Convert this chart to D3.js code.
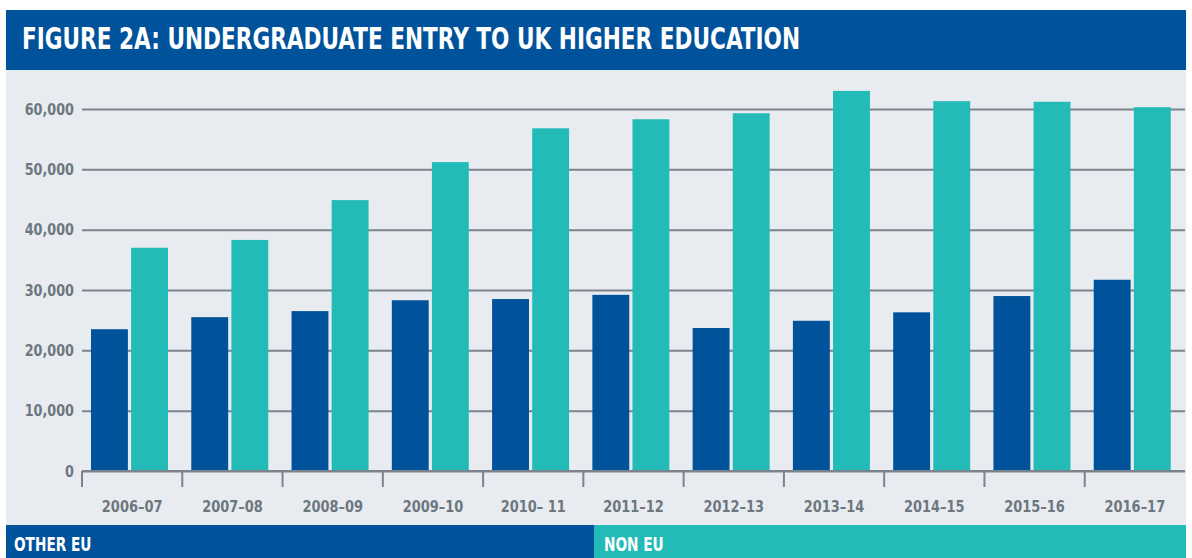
<!DOCTYPE html>
<html>
<head>
<meta charset="utf-8">
<script src="https://cdn.jsdelivr.net/npm/d3@7"></script>
<style>
  body { margin: 0; background: #fff; }
  svg { display: block; }
  text { font-family: "DejaVu Sans Condensed", "Liberation Sans Narrow", sans-serif; font-weight: bold; }
</style>
</head>
<body>
<svg id="chart"></svg>
<script>
// Datos
const years = ['2006–07', '2007–08', '2008–09', '2009–10', '2010– 11', '2011–12',
  '2012–13', '2013–14', '2014–15', '2015–16', '2016–17'];
const otherEU = [23500, 25500, 26500, 28300, 28500, 29200, 23700, 24900, 26300, 29000, 31700];
const nonEU = [37000, 38300, 44900, 51200, 56800, 58300, 59300, 63000, 61300, 61200, 60300];
const yTicks = [0, 10000, 20000, 30000, 40000, 50000, 60000];
const seriesNames = ['OTHER EU', 'NON EU'];

const width = 1192;
const height = 558;
const blue = '#00539b';
const teal = '#22bbb8';
const grey = '#6d7780';
const rule = '#7b838c';

const svg = d3.select('#chart')
  .attr('width', width)
  .attr('height', height);

// Estrecha el texto para imitar la fuente condensada
function squeeze(sel, k) {
  sel.each(function () {
    const w = this.getComputedTextLength();
    d3.select(this)
      .attr('textLength', w * k)
      .attr('lengthAdjust', 'spacingAndGlyphs');
  });
}

// Fondo del panel
svg.append('rect')
  .attr('x', 6).attr('y', 70)
  .attr('width', 1180).attr('height', 455)
  .attr('fill', '#e8ecf0');

// Cabecera
svg.append('rect')
  .attr('x', 6).attr('y', 10)
  .attr('width', 1180).attr('height', 60)
  .attr('fill', blue);

svg.append('text')
  .attr('x', 22).attr('y', 49)
  .attr('fill', '#fff')
  .attr('font-size', 30)
  .attr('textLength', 778)
  .attr('lengthAdjust', 'spacingAndGlyphs')
  .text('FIGURE 2A: UNDERGRADUATE ENTRY TO UK HIGHER EDUCATION');

// Escalas
const x = d3.scaleBand()
  .domain(years)
  .range([82, 1185]);

const y = d3.scaleLinear()
  .domain([0, 60000])
  .range([471, 109]);

// Rejilla y eje Y
const yAxis = svg.append('g')
  .attr('transform', 'translate(82,0)')
  .call(d3.axisLeft(y)
    .tickValues(yTicks)
    .tickSize(-(1185 - 82))
    .tickPadding(8)
    .tickFormat(d3.format(',')));

yAxis.select('.domain').remove();
yAxis.selectAll('line')
  .attr('stroke', rule)
  .attr('stroke-width', 2);
const yLabels = yAxis.selectAll('text')
  .attr('fill', grey)
  .attr('font-size', 16.5)
  .attr('font-family', null);
squeeze(yLabels, 0.86);

// Barras
const groups = svg.append('g')
  .selectAll('g')
  .data(years.map((yr, i) => ({ yr, values: [otherEU[i], nonEU[i]] })))
  .enter().append('g')
  .attr('transform', d => `translate(${x(d.yr)},0)`);

const inner = d3.scaleBand()
  .domain([0, 1])
  .range([9, 168 - 82])
  .paddingInner(0.08);

groups.selectAll('rect')
  .data(d => d.values)
  .enter().append('rect')
  .attr('x', (d, i) => inner(i))
  .attr('width', inner.bandwidth())
  .attr('y', d => y(d))
  .attr('height', d => y(0) - y(d))
  .attr('fill', (d, i) => i === 0 ? blue : teal);

// Eje X
const xAxis = svg.append('g')
  .attr('transform', `translate(0,${y(0)})`)
  .call(d3.axisBottom(x).tickSize(0).tickPadding(30));

xAxis.select('.domain')
  .attr('stroke', rule)
  .attr('stroke-width', 2)
  .attr('d', 'M82,0H1185');
const xLabels = xAxis.selectAll('text')
  .attr('fill', grey)
  .attr('font-size', 16)
  .attr('font-family', null);
squeeze(xLabels, 0.9);

// Marcas entre categorías
svg.append('g')
  .selectAll('line')
  .data(years)
  .enter().append('line')
  .attr('x1', d => x(d)).attr('x2', d => x(d))
  .attr('y1', y(0)).attr('y2', y(0) + 16)
  .attr('stroke', rule)
  .attr('stroke-width', 2);

// Leyenda
const legend = svg.append('g');
const legendX = [6, 594];
const legendW = [588, 592];
legend.selectAll('rect')
  .data(seriesNames)
  .enter().append('rect')
  .attr('x', (d, i) => legendX[i])
  .attr('y', 525)
  .attr('width', (d, i) => legendW[i])
  .attr('height', 33)
  .attr('fill', (d, i) => i === 0 ? blue : teal);

const legendText = legend.selectAll('text')
  .data(seriesNames)
  .enter().append('text')
  .attr('x', (d, i) => legendX[i] + 8 + (i === 1 ? 2 : 0))
  .attr('y', 551)
  .attr('fill', '#fff')
  .attr('font-size', 19)
  .text(d => d);
squeeze(legendText, 0.8);
</script>
</body>
</html>
